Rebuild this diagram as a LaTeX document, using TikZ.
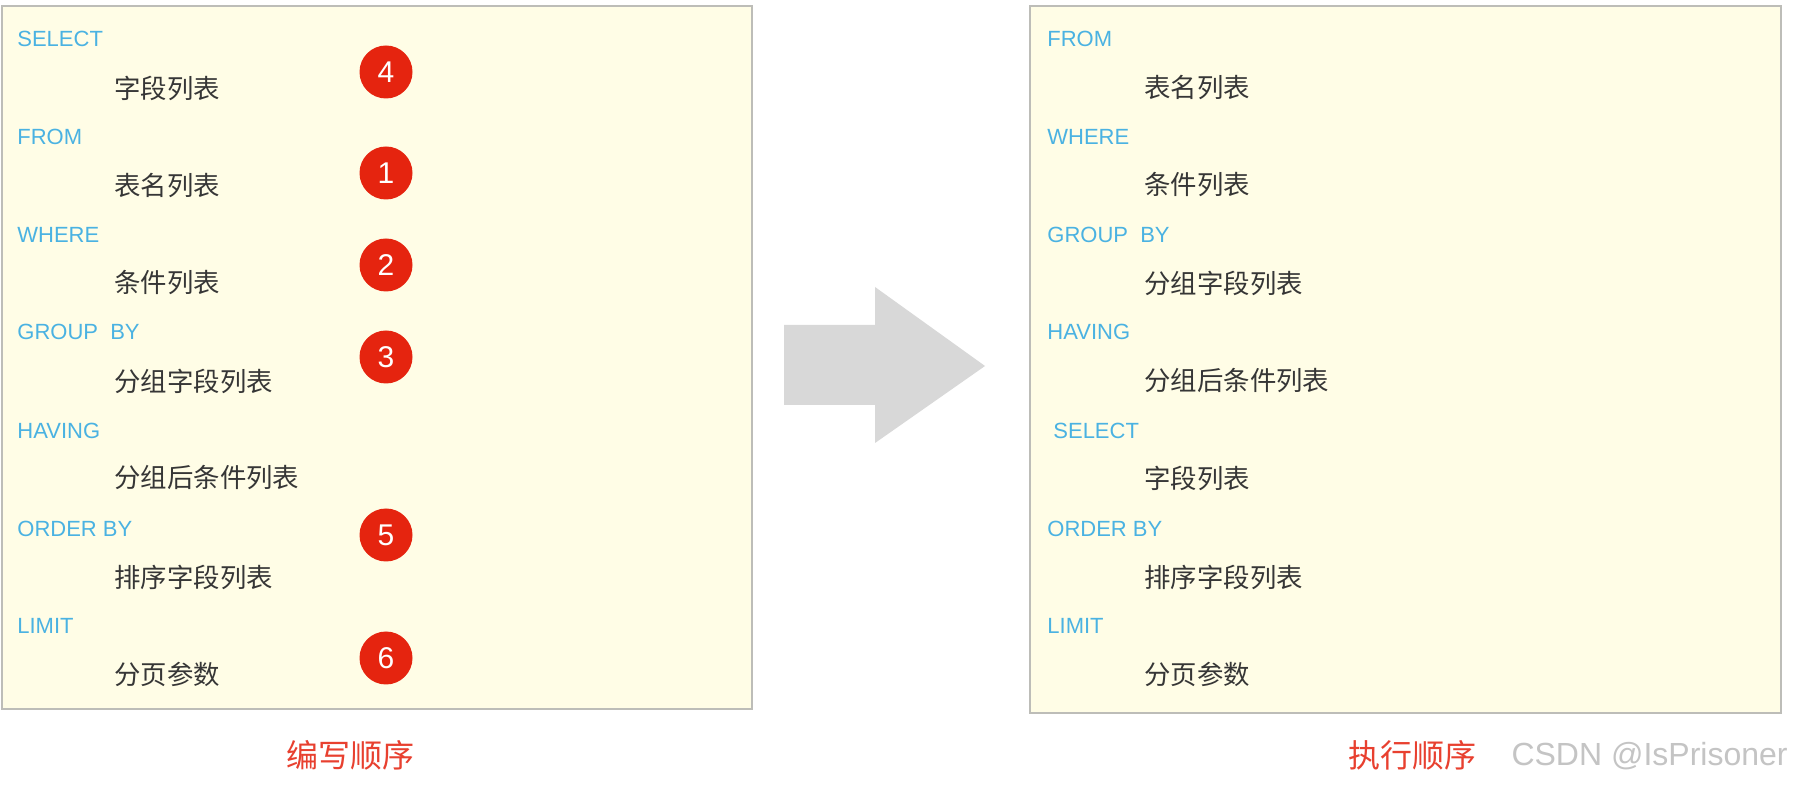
\documentclass[tikz,border=0pt]{standalone}
\usepackage{fontspec}
\setmainfont{Liberation Sans}
\newfontfamily\cjk{Noto Sans CJK SC}
\usepackage{xcolor}
\usetikzlibrary{positioning}

\definecolor{kwblue}{HTML}{4AB2E2}
\definecolor{itemgray}{HTML}{363636}
\definecolor{badgered}{HTML}{E5240F}
\definecolor{capred}{HTML}{E8402F}
\definecolor{panelfill}{HTML}{FFFDE6}
\definecolor{panelline}{HTML}{BDBDB8}
\definecolor{arrowgray}{HTML}{D8D8D8}
\definecolor{markgray}{HTML}{C4C4C4}

\tikzset{
  kw/.style={anchor=west, inner sep=0pt, text=kwblue, font=\fontsize{11}{13}\selectfont},
  item/.style={anchor=west, inner sep=0pt, text=itemgray, font=\cjk\fontsize{13.2}{15}\selectfont},
  order/.style={circle, fill=badgered, text=white, minimum size=26.5pt, inner sep=0pt, font=\fontsize{15}{17}\selectfont},
  panel/.style={draw=panelline, line width=1pt, fill=panelfill},
  caption/.style={inner sep=0pt, text=capred, font=\cjk\fontsize{16}{18}\selectfont}
}

\begin{document}
\begin{tikzpicture}[x=0.5pt, y=-0.5pt]
    \useasboundingbox[fill=white] (0,0) rectangle (1794,790);

    % Panels
    \draw[panel] (2,6) rectangle (752,709);
    \draw[panel] (1030,6) rectangle (1781,713);

    % Writing order
    \node[kw] (wselect) at (17,39) {SELECT};
    \node[item] (wfields) at (114,88) {字段列表};
    \node[kw] (wfrom) at (17,137) {FROM};
    \node[item] (wtables) at (114,185) {表名列表};
    \node[kw] (wwhere) at (17,235) {WHERE};
    \node[item] (wconds) at (114,283) {条件列表};
    \node[kw] (wgroup) at (17,332) {GROUP\ \ BY};
    \node[item] (wgfields) at (114,381) {分组字段列表};
    \node[kw] (whaving) at (17,431) {HAVING};
    \node[item] (whconds) at (114,478) {分组后条件列表};
    \node[kw] (worder) at (17,529) {ORDER BY};
    \node[item] (wofields) at (114,577) {排序字段列表};
    \node[kw] (wlimit) at (17,626) {LIMIT};
    \node[item] (wpage) at (114,674) {分页参数};

    % Execution steps
    \node[order] (n4) at (386,72) {4};
    \node[order] (n1) at (386,173) {1};
    \node[order] (n2) at (386,265) {2};
    \node[order] (n3) at (386,357) {3};
    \node[order] (n5) at (386,535) {5};
    \node[order] (n6) at (386,658) {6};

    % Arrow
    \fill[arrowgray] (784,325) -- (875,325) -- (875,287) -- (985,366)
        -- (875,443) -- (875,405) -- (784,405) -- cycle;

    % Execution order
    \node[kw] (efrom) at (1047,39) {FROM};
    \node[item] (etables) at (1144,88) {表名列表};
    \node[kw] (ewhere) at (1047,137) {WHERE};
    \node[item] (econds) at (1144,185) {条件列表};
    \node[kw] (egroup) at (1047,235) {GROUP\ \ BY};
    \node[item] (egfields) at (1144,283) {分组字段列表};
    \node[kw] (ehaving) at (1047,332) {HAVING};
    \node[item] (ehconds) at (1144,381) {分组后条件列表};
    \node[kw] (eselect) at (1053,431) {SELECT};
    \node[item] (efields) at (1144,478) {字段列表};
    \node[kw] (eorder) at (1047,529) {ORDER BY};
    \node[item] (eofields) at (1144,577) {排序字段列表};
    \node[kw] (elimit) at (1047,626) {LIMIT};
    \node[item] (epage) at (1144,674) {分页参数};

    % Captions
    \node[caption] (wcap) at (350,755) {编写顺序};
    \node[caption] (ecap) at (1412,755) {执行顺序};
    \node[anchor=east, inner sep=0pt, text=markgray, font=\fontsize{16}{18}\selectfont] (mark) at (1788,756) {CSDN @IsPrisoner};
\end{tikzpicture}
\end{document}
